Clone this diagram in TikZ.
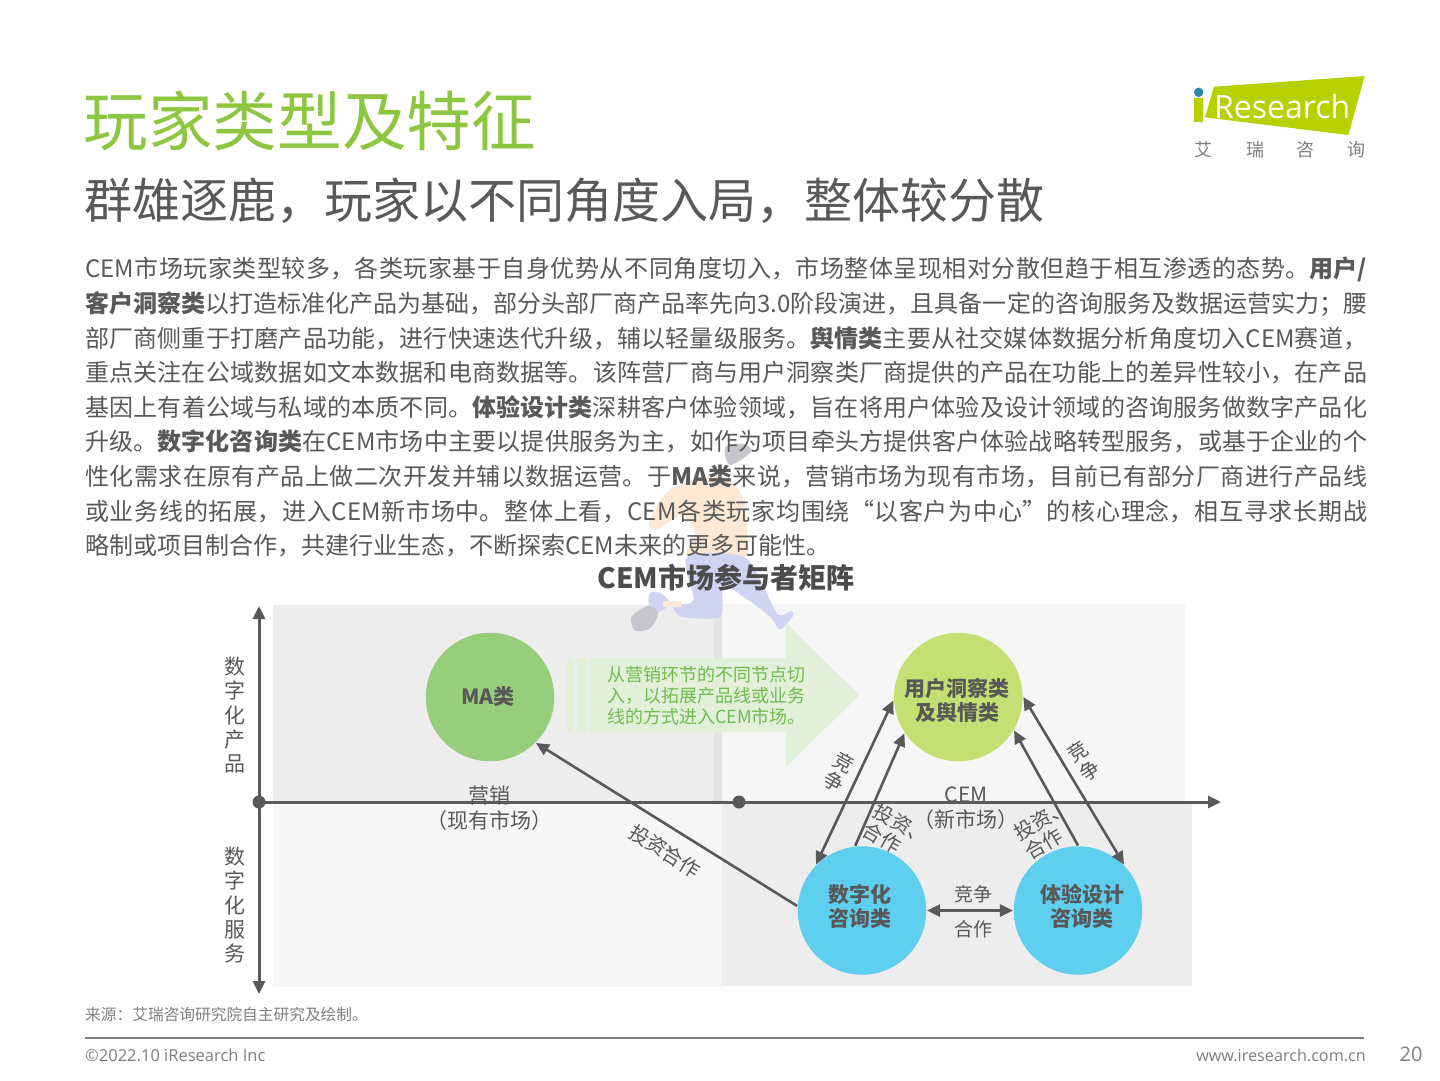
\documentclass[tikz,border=0pt]{standalone}
\usepackage{fontspec}
\usetikzlibrary{arrows.meta}
\setmainfont{Noto Sans CJK SC}
\newfontfamily\latinf{Open Sans}
\XeTeXlinebreaklocale "zh"
\XeTeXlinebreakskip=0pt plus 3pt minus .3pt
\definecolor{ink}{HTML}{595959}
\definecolor{titlegreen}{HTML}{8DC63F}
\definecolor{arrowgreen}{HTML}{E2F0D9}
\definecolor{greentext}{HTML}{72BB50}
\definecolor{magreen}{HTML}{96CE7C}
\definecolor{limec}{HTML}{C5DF72}
\definecolor{bluec}{HTML}{5FCFF0}
\definecolor{logolime}{HTML}{B5D100}
\definecolor{logoteal}{HTML}{2A87A5}
\definecolor{footgray}{HTML}{7F7F7F}
\definecolor{peach}{HTML}{FCE8D5}
\definecolor{lavender}{HTML}{D0D4F2}
\definecolor{shoegray}{HTML}{C6C6CC}
\newcommand{\fs}[2]{\fontsize{#1}{#2}\selectfont}
\tikzset{
  bubble/.style={circle,minimum size=128.5pt,inner sep=0pt,outer sep=.8pt,fill=#1},
  clabel/.style={font=\fs{21}{24}\bfseries,text=ink,align=center,inner sep=0pt},
  plabel/.style={font=\fs{19}{22}\selectfont,text=ink,align=center,inner sep=0pt},
  axlabel/.style={font=\fs{21}{25}\selectfont,text=ink,align=center,inner sep=0pt},
  flow/.style={line width=2.6pt,draw=ink,-{Triangle[length=13pt,width=12pt]}},
  both/.style={line width=2.6pt,draw=ink,{Triangle[length=13pt,width=12pt]}-{Triangle[length=13pt,width=12pt]}},
  foot/.style={text=footgray,inner sep=0pt}
}
\begin{document}
\begin{tikzpicture}[x=1pt,y=-1pt]
\useasboundingbox (0,0) rectangle (1440,1080);
\fill[white] (0,0) rectangle (1440,1080);

% backgrounds
\fill[black!7] (273,605) rectangle (716,802);
\fill[black!11] (714,605) rectangle (722,802);
\fill[black!3.5] (722,604) rectangle (1185,802);
\fill[black!3.5] (273,802) rectangle (722,987);
\fill[black!7] (722,802) rectangle (1192,986);

% runner (faint figure behind the text)
\begin{scope}[shift={(610,440)},x=.3333pt,y=-.3333pt]
\fill[shoegray] plot[smooth cycle] coordinates {(345,45) (350,18) (400,12) (425,30) (400,55) (360,75)};
\fill[peach] plot[smooth cycle] coordinates {(185,145) (330,108) (395,165) (412,290) (400,352) (232,352) (255,280) (215,225) (140,270) (118,245)};
\fill[lavender] plot[smooth cycle] coordinates {(232,350) (400,350) (460,440) (505,525) (545,512) (548,530) (510,568) (480,530) (400,470) (340,440) (330,530) (215,530) (190,495) (250,480)};
\fill[lavender] plot[smooth cycle] coordinates {(118,462) (150,458) (180,490) (150,515) (120,515)};
\fill[peach] (160,482) rectangle (212,502);
\fill[shoegray] plot[smooth cycle] coordinates {(65,530) (115,498) (145,520) (120,565) (75,572)};
\end{scope}

% big arrow
\fill[arrowgreen] (567.3,658.3) rectangle (572.7,731.7);
\fill[arrowgreen] (577.3,658.3) rectangle (586.7,731.7);
\fill[arrowgreen] (590,658.3) -- (786,658.3) -- (786,623) -- (859.3,695) -- (786,767) -- (786,731.7) -- (590,731.7) -- cycle;
\node[anchor=west,font=\fs{18}{21.2}\selectfont,text=greentext,align=left,inner sep=0pt] (arrowtext) at (607,695.5) {从营销环节的不同节点切\\入，以拓展产品线或业务\\线的方式进入CEM市场。};

% rotated labels that pass behind the bubbles
\node[plabel,rotate=-30,align=left,font=\fs{20}{22}\selectfont] (invL) at (896,833.5) {投资、\\合作};
\node[plabel,rotate=30,align=left,font=\fs{20}{22}\selectfont] (invR) at (1047,829.5) {投资、\\合作};
\node[plabel,rotate=-32,font=\fs{20}{22}\selectfont] (invMA) at (665,851) {投资\rlap{\raisebox{.55em}{、}}合作};
\node[plabel,rotate=-29,font=\fs{20}{21}\selectfont] (compL) at (839,772) {竞\\争};
\node[plabel,rotate=33,font=\fs{20}{22}\selectfont] (compR) at (1084,761) {竞\\争};

% axis labels
\node[axlabel] (mkt) at (489,808) {营销\\（现有市场）};
\node[axlabel] (cem) at (966,808) {CEM\\（新市场）};
\node[axlabel,font=\fs{21}{24.3}\selectfont] (prodax) at (235,715) {数\\字\\化\\产\\品};
\node[axlabel,font=\fs{21}{24.1}\selectfont] (servax) at (235,905) {数\\字\\化\\服\\务};

% axes
\node[circle,fill=ink,minimum size=13pt,inner sep=0pt] (origin) at (259,802) {};
\node[circle,fill=ink,minimum size=13pt,inner sep=0pt] (mid) at (739,802) {};
\coordinate (top) at (259,606);
\coordinate (bottom) at (259,994);
\coordinate (right) at (1221,802);
\draw[both,line width=3pt] (top) -- (bottom);
\draw[flow,line width=3pt] (origin.center) -- (right);

% bubbles
\node[bubble=magreen] (ma) at (490,697) {};
\node[bubble=limec] (lime) at (958.3,697) {};
\node[bubble=bluec] (dc) at (862,910.5) {};
\node[bubble=bluec] (ex) at (1078,910.5) {};
\node[clabel] (maT) at (488,697) {MA类};
\node[clabel] (limeT) at (957,700) {用户洞察类\\及舆情类};
\node[clabel] (dcT) at (860,906) {数字化\\咨询类};
\node[clabel] (exT) at (1082,906) {体验设计\\咨询类};

% connectors
\draw[both] (lime.183.5) -- (dc.135);
\draw[flow] (dc.96) -- (lime.214.4);
\draw[flow] (ex.90) -- (lime.329.3);
\draw[both] (lime.0) -- (ex.45);
\draw[both] (dc.east) -- (ex.west);
\draw[flow] (dc.176.4) -- (ma.315);
\node[plabel] (hcomp) at (973,894) {竞争};
\node[plabel] (hcoop) at (973,929) {合作};

% titles
\node[anchor=west,inner sep=0pt,font=\fs{64.6}{70}\selectfont,text=titlegreen] (title) at (83.5,121) {玩家类型及特征};
\node[anchor=west,inner sep=0pt,font=\fs{48}{54}\selectfont,text=ink] (subtitle) at (84,200.5) {群雄逐鹿，玩家以不同角度入局，整体较分散};

% body
\node[anchor=north west,inner sep=0pt,text width=1282pt,align=justify,text=ink,font=\fs{24}{34.6}\selectfont] (body) at (85,257) {%
CEM市场玩家类型较多，各类玩家基于自身优势从不同角度切入，市场整体呈现相对分散但趋于相互渗透的态势。\textbf{用户/}\linebreak
\textbf{客户洞察类}以打造标准化产品为基础，部分头部厂商产品率先向3.0阶段演进，且具备一定的咨询服务及数据运营实力；腰\linebreak
部厂商侧重于打磨产品功能，进行快速迭代升级，辅以轻量级服务。\textbf{舆情类}主要从社交媒体数据分析角度切入CEM赛道，\linebreak
重点关注在公域数据如文本数据和电商数据等。该阵营厂商与用户洞察类厂商提供的产品在功能上的差异性较小，在产品\linebreak
基因上有着公域与私域的本质不同。\textbf{体验设计类}深耕客户体验领域，旨在将用户体验及设计领域的咨询服务做数字产品化\linebreak
升级。\textbf{数字化咨询类}在CEM市场中主要以提供服务为主，如作为项目牵头方提供客户体验战略转型服务，或基于企业的个\linebreak
性化需求在原有产品上做二次开发并辅以数据运营。于\textbf{MA类}来说，营销市场为现有市场，目前已有部分厂商进行产品线\linebreak
或业务线的拓展，进入CEM新市场中。整体上看，CEM各类玩家均围绕“以客户为中心”的核心理念，相互寻求长期战\linebreak
略制或项目制合作，共建行业生态，不断探索CEM未来的更多可能性。};

\node[inner sep=0pt,font=\fs{28}{32}\bfseries,text=ink!85!black] (mtitle) at (726,578) {CEM市场参与者矩阵};

% logo
\fill[logolime] (1214,86.7) -- (1364.7,76) -- (1348.3,135) -- (1205,117.3) -- cycle;
\fill[logolime] (1194,98.3) rectangle (1203.3,121.7);
\fill[logoteal] (1198.7,92.3) circle (4.7);
\node[inner sep=0pt,anchor=base west,font=\latinf\fs{32}{34}\selectfont,text=white] (logotext) at (1214,118) {Research};
\node[inner sep=0pt,font=\fs{18}{20}\selectfont,text=black!50] (logo1) at (1203,150) {艾};
\node[inner sep=0pt,font=\fs{18}{20}\selectfont,text=black!50] (logo2) at (1255,150) {瑞};
\node[inner sep=0pt,font=\fs{18}{20}\selectfont,text=black!50] (logo3) at (1305,150) {咨};
\node[inner sep=0pt,font=\fs{18}{20}\selectfont,text=black!50] (logo4) at (1356,150) {询};

% footer
\node[foot,anchor=west,font=\fs{15.7}{18}\selectfont] (source) at (85,1015) {来源：艾瑞咨询研究院自主研究及绘制。};
\draw[footgray,line width=2pt] (85,1038) -- (1364,1038);
\node[foot,anchor=west,font=\latinf\fs{16.5}{18}\selectfont] (copy) at (85,1055) {©2022.10 iResearch Inc};
\node[foot,anchor=east,font=\latinf\fs{16.2}{18}\selectfont] (web) at (1366,1055) {www.iresearch.com.cn};
\node[foot,font=\latinf\fs{20}{22}\selectfont] (page) at (1411,1054) {20};
\end{tikzpicture}
\end{document}
